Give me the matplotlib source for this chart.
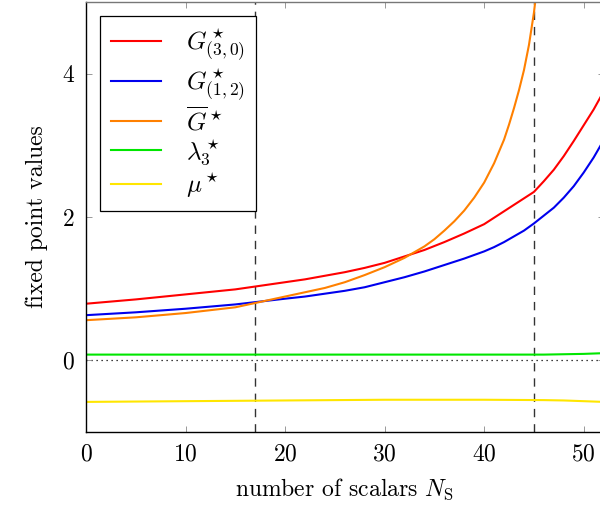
import matplotlib
matplotlib.use("Agg")
import matplotlib.pyplot as plt

plt.rcParams["font.family"] = ["cmr10"]
plt.rcParams["mathtext.fontset"] = "cm"
plt.rcParams["axes.formatter.use_mathtext"] = True

# Fixed point values versus number of scalars
ns_g30 = [0, 5, 10, 15, 20, 22, 24, 26, 28, 30, 32, 34, 36, 38, 40, 41, 42,
          43, 44, 45, 46, 47, 48, 49, 50, 51, 52]
g30 = [0.79, 0.85, 0.92, 0.99, 1.09, 1.13, 1.18, 1.23, 1.29, 1.36, 1.45, 1.54,
       1.65, 1.77, 1.90, 1.99, 2.08, 2.17, 2.26, 2.35, 2.50, 2.66, 2.85, 3.06,
       3.28, 3.50, 3.75]

ns_g12 = [0, 5, 10, 15, 20, 22, 24, 26, 28, 30, 32, 34, 36, 38, 40, 41, 42,
          43, 44, 45, 46, 47, 48, 49, 50, 51, 52]
g12 = [0.63, 0.67, 0.72, 0.78, 0.86, 0.89, 0.93, 0.97, 1.02, 1.09, 1.16, 1.24,
       1.33, 1.42, 1.52, 1.58, 1.65, 1.73, 1.81, 1.91, 2.02, 2.13, 2.27, 2.43,
       2.62, 2.83, 3.07]

ns_gbar = [0, 5, 10, 15, 17, 20, 22, 24, 26, 28, 30, 32, 34, 35, 36, 37, 38,
           39, 40, 41, 42, 42.5, 43, 43.5, 44, 44.5, 45, 45.3]
gbar = [0.56, 0.60, 0.66, 0.74, 0.80, 0.89, 0.95, 1.01, 1.09, 1.19, 1.30, 1.43,
        1.59, 1.69, 1.81, 1.94, 2.09, 2.27, 2.48, 2.75, 3.08, 3.29, 3.52, 3.77,
        4.05, 4.40, 4.85, 5.20]

ns_lam = [0, 10, 20, 30, 40, 46, 48, 50, 52]
lam3 = [0.08, 0.08, 0.08, 0.08, 0.08, 0.08, 0.085, 0.09, 0.10]

ns_mu = [0, 10, 20, 30, 40, 46, 48, 50, 52]
mu = [-0.58, -0.57, -0.56, -0.55, -0.55, -0.555, -0.56, -0.57, -0.58]

ns_marks = [17, 45]

fig = plt.figure(figsize=(6.0, 5.12), dpi=100)
ax = fig.add_axes([86 / 600, 1 - 432 / 512, 517.6 / 600, 430 / 512])

ax.axhline(0, color="black", lw=0.9, ls=(0, (1, 3)), zorder=1)
for xv in ns_marks:
    ax.axvline(xv, color="#333333", lw=1.0, ls=(0, (6, 5)), zorder=1)

lw = 1.5
ax.plot(ns_g30, g30, color="#ff0000", lw=lw, label=r"$G^\star_{(3,0)}$")
ax.plot(ns_g12, g12, color="#0000ee", lw=lw, label=r"$G^\star_{(1,2)}$")
ax.plot(ns_gbar, gbar, color="#ff8000", lw=lw, label=r"$\overline{G}^\star$")
ax.plot(ns_lam, lam3, color="#00e600", lw=lw, label=r"$\lambda_3^\star$")
ax.plot(ns_mu, mu, color="#ffe600", lw=lw, label=r"$\mu^\star$")

ax.set_xlim(0, 52)
ax.set_ylim(-1, 5)
ax.set_xticks([0, 10, 20, 30, 40, 50])
ax.set_yticks([0, 2, 4])
ax.tick_params(direction="in", top=True, right=True, length=4, width=0.6,
               color="#888888", labelsize=17, pad=8)
for s in ax.spines.values():
    s.set_linewidth(1.0)
ax.spines["top"].set_color("#777777")

ax.set_xlabel(r"number of scalars $N_\mathrm{S}$", fontsize=17, labelpad=8)
ax.set_ylabel("fixed point values", fontsize=17, labelpad=10)

leg = ax.legend(loc="upper left", fontsize=18, frameon=True, fancybox=False,
                edgecolor="black", framealpha=1, handlelength=2.0,
                borderpad=0.45, labelspacing=0.12, handletextpad=1.0,
                borderaxespad=0.55)
leg.get_frame().set_linewidth(0.9)

fig.savefig("out.png", dpi=100)
